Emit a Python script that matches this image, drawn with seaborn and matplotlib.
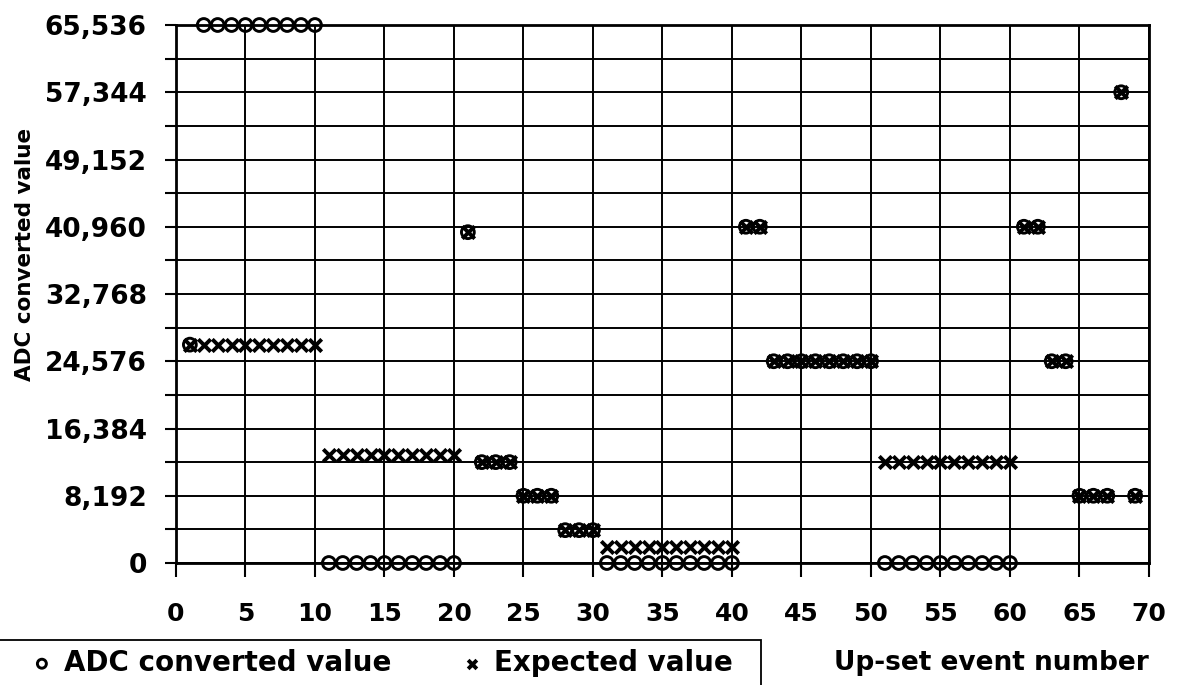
import matplotlib
matplotlib.use("Agg")
import matplotlib.pyplot as plt
import seaborn as sns
import pandas as pd
from matplotlib.ticker import FixedLocator
from matplotlib.patches import Rectangle

# ---------------- data ----------------
events = [1, 2, 3, 4, 5, 6, 7, 8, 9, 10,
          11, 12, 13, 14, 15, 16, 17, 18, 19, 20,
          21, 22, 23, 24, 25, 26, 27, 28, 29, 30,
          31, 32, 33, 34, 35, 36, 37, 38, 39, 40,
          41, 42, 43, 44, 45, 46, 47, 48, 49, 50,
          51, 52, 53, 54, 55, 56, 57, 58, 59, 60,
          61, 62, 63, 64, 65, 66, 67, 68, 69]

adc_values = [26600, 65536, 65536, 65536, 65536, 65536, 65536, 65536, 65536, 65536,
              0, 0, 0, 0, 0, 0, 0, 0, 0, 0,
              40300, 12288, 12288, 12288, 8192, 8192, 8192, 4000, 4000, 4000,
              0, 0, 0, 0, 0, 0, 0, 0, 0, 0,
              40960, 40960, 24576, 24576, 24576, 24576, 24576, 24576, 24576, 24576,
              0, 0, 0, 0, 0, 0, 0, 0, 0, 0,
              40960, 40960, 24576, 24576, 8192, 8192, 8192, 57344, 8192]

expected_values = [26600, 26600, 26600, 26600, 26600, 26600, 26600, 26600, 26600, 26600,
                   13200, 13200, 13200, 13200, 13200, 13200, 13200, 13200, 13200, 13200,
                   40300, 12288, 12288, 12288, 8192, 8192, 8192, 4000, 4000, 4000,
                   2000, 2000, 2000, 2000, 2000, 2000, 2000, 2000, 2000, 2000,
                   40960, 40960, 24576, 24576, 24576, 24576, 24576, 24576, 24576, 24576,
                   12288, 12288, 12288, 12288, 12288, 12288, 12288, 12288, 12288, 12288,
                   40960, 40960, 24576, 24576, 8192, 8192, 8192, 57344, 8192]

x_ticks = [0, 5, 10, 15, 20, 25, 30, 35, 40, 45, 50, 55, 60, 65, 70]
y_ticks = [0, 8192, 16384, 24576, 32768, 40960, 49152, 57344, 65536]
y_tick_labels = ["0", "8,192", "16,384", "24,576", "32,768",
                 "40,960", "49,152", "57,344", "65,536"]
y_minor_ticks = [4096, 12288, 20480, 28672, 36864, 45056, 53248, 61440]

series_adc = "ADC converted value"
series_exp = "Expected value"
x_title = "Up-set event number"
y_title = "ADC converted value"

df = pd.DataFrame({"event": events, "adc": adc_values, "expected": expected_values})

# ---------------- style ----------------
sns.set_style("white")
plt.rcParams["font.family"] = ["DejaVu Sans"]
plt.rcParams["font.weight"] = "bold"
plt.rcParams["text.color"] = "black"
plt.rcParams["axes.labelcolor"] = "black"
plt.rcParams["xtick.color"] = "black"
plt.rcParams["ytick.color"] = "black"

fig = plt.figure(figsize=(11.77, 6.85), dpi=100)
ax = fig.add_axes([0.1495, 0.1781, 0.9762 - 0.1495, 0.9635 - 0.1781])

sns.scatterplot(data=df, x="event", y="expected", marker="x", s=80,
                color="black", linewidth=2.8, ax=ax, label=series_exp,
                clip_on=False, zorder=3)
sns.scatterplot(data=df, x="event", y="adc", marker="o", s=85,
                facecolors="none", edgecolor="black", linewidth=2.1,
                ax=ax, label=series_adc, clip_on=False, zorder=4)

ax.set_xlim(0, 70)
ax.set_ylim(0, 65536)
ax.xaxis.set_major_locator(FixedLocator(x_ticks))
ax.set_xticklabels([str(t) for t in x_ticks])
ax.yaxis.set_major_locator(FixedLocator(y_ticks))
ax.yaxis.set_minor_locator(FixedLocator(y_minor_ticks))
ax.set_yticklabels(y_tick_labels)

ax.grid(True, which="both", axis="y", color="black", linewidth=1.4)
ax.grid(True, which="major", axis="x", color="black", linewidth=1.4)
ax.set_axisbelow(True)

for sp in ax.spines.values():
    sp.set_visible(True)
    sp.set_color("black")
    sp.set_linewidth(2)

ax.tick_params(axis="x", which="major", direction="out", length=10, width=1.5,
               pad=18, labelsize=18, bottom=True, colors="black")
ax.tick_params(axis="y", which="both", direction="out", length=8, width=1.5,
               left=True, colors="black")
ax.tick_params(axis="y", which="major", pad=13, labelsize=19)
for lab in ax.get_xticklabels() + ax.get_yticklabels():
    lab.set_fontweight("bold")

ax.set_xlabel(x_title, fontsize=19, fontweight="bold", loc="right")
ax.xaxis.set_label_coords(1.0, (563 - 663) / 538)
ax.xaxis.label.set_va("center")
ax.xaxis.label.set_ha("right")

ax.set_ylabel(y_title, fontsize=15.5, fontweight="bold")
ax.yaxis.set_label_coords((25 - 176) / 973, (563 - 254) / 538)
ax.yaxis.label.set_va("center")

handles, labels = ax.get_legend_handles_labels()
ax.get_legend().remove()
order = [labels.index(series_adc), labels.index(series_exp)]
leg = fig.legend([handles[i] for i in order], [labels[i] for i in order],
                 loc="center left", bbox_to_anchor=(28 / 1177, 1 - 663 / 685),
                 ncol=2, frameon=False, borderpad=0, handlelength=1.0,
                 handletextpad=0.3, columnspacing=2.4, borderaxespad=0,
                 markerscale=0.7,
                 prop={"family": "DejaVu Sans", "weight": "bold", "size": 20})
fig.add_artist(Rectangle((-5 / 1177, -10 / 685), 766 / 1177, 55 / 685,
                         transform=fig.transFigure, fill=False,
                         edgecolor="black", linewidth=1.3))

fig.savefig("out.png", dpi=100)
